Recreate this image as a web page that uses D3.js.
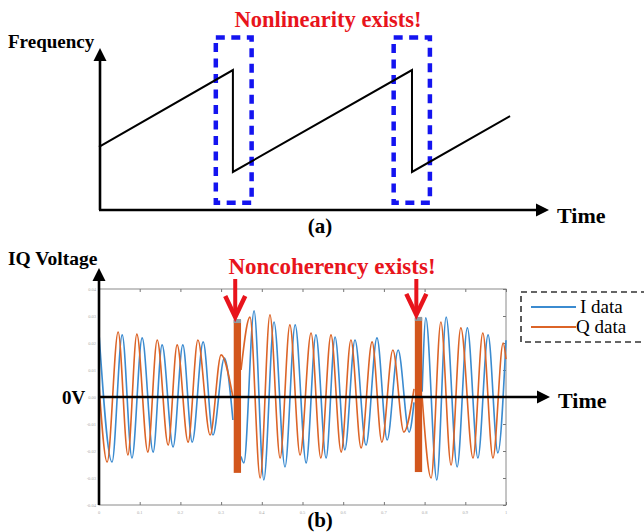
<!DOCTYPE html>
<html>
<head>
<meta charset="utf-8">
<script src="https://cdn.jsdelivr.net/npm/d3@7"></script>
<style>
  body { margin: 0; background: #fff; }
  svg { display: block; }
  text { font-family: "Liberation Serif", "Times New Roman", serif; }
</style>
</head>
<body>
<svg id="chart" width="644" height="532"></svg>
<script>
// ---- top panel: FMCW sweep (time, frequency) ----
var sweepPoints = [[0, 3.9], [3.29, 8.64], [3.29, 2.35], [7.69, 8.64], [7.69, 2.35], [10.1, 5.8]];
// dashed windows where nonlinearity shows up [tStart, tEnd, fLow, fHigh]
var nonlinWindows = [[2.87, 3.75, 0.45, 10.65], [7.24, 8.13, 0.45, 10.65]];

// ---- bottom panel: IQ voltage, extrema [t, v] ----
var iData = [
  [[0, 2.37], [0.32, -2.41], [0.57, 2.30], [0.81, -2.26], [1.06, 2.19], [1.33, -2.04], [1.55, 1.93],
   [1.82, -1.85], [2.06, 1.93], [2.29, -1.67], [2.56, 2.04], [2.80, -1.41], [3.08, 1.44], [3.29, -0.85]],
  [[3.49, -2.20], [3.56, -2.44], [3.81, 3.19], [4.05, -3.07], [4.30, 2.78], [4.57, -2.59], [4.82, 2.67],
   [5.09, -2.44], [5.33, 2.30], [5.58, -2.26], [5.80, 2.22], [6.04, -1.96], [6.29, 2.11], [6.56, -1.78],
   [6.83, 2.19], [7.08, -1.59], [7.35, 1.74], [7.62, -1.30], [7.74, -0.2]],
  [[7.94, 0.2], [8.03, 2.93], [8.30, -3.07], [8.53, 2.96], [8.80, -2.59], [9.05, 2.56], [9.31, -2.26],
   [9.56, 2.30], [9.80, -2.07], [10.0, 2.10]]
];
var qData = [
  [[0, 0.44], [0.20, -2.41], [0.47, 2.41], [0.71, -2.15], [0.93, 2.33], [1.20, -2.04], [1.43, 2.11],
   [1.70, -1.78], [1.92, 1.93], [2.19, -1.67], [2.43, 2.11], [2.73, -1.41], [3.00, 1.56], [3.29, 0.0]],
  [[3.49, 1.0], [3.71, 2.96], [3.96, -3.00], [4.20, 3.04], [4.45, -2.26], [4.69, 2.67], [4.94, -2.15],
   [5.21, 2.37], [5.45, -2.26], [5.70, 2.30], [5.95, -2.04], [6.19, 2.11], [6.44, -1.89], [6.71, 2.04],
   [6.95, -1.67], [7.22, 1.74], [7.49, -1.30], [7.74, 0.3]],
  [[7.94, 0.0], [8.16, -3.00], [8.40, 2.78], [8.65, -2.52], [8.89, 2.56], [9.19, -2.26], [9.43, 2.37],
   [9.68, -2.26], [9.93, 2.00], [10.0, 1.40]]
];
// phase-jump bursts [tStart, tEnd, vTop, vBottom]
var bursts = [[3.31, 3.49, 2.85, -2.81], [7.76, 7.94, 2.93, -2.78]];

var xTicks = [0, 1, 2, 3, 4, 5, 6, 7, 8, 9, 10];
var yTicks = [-4, -3, -2, -1, 0, 1, 2, 3, 4];
var legendLabels = ["I data", "Q data"];

var colI = "#3b8bd0";
var colQ = "#dc6427";
var colRed = "#e8141c";
var colBox = "#1414f0";

var svg = d3.select("#chart");

// shared time scale, one frequency scale, one voltage scale
var x = d3.scaleLinear().domain([0, 10]).range([99, 506]);
var yTop = d3.scaleLinear().domain([0, 10]).range([210, 48]);
var yBot = d3.scaleLinear().domain([-4, 4]).range([505, 289]);

/*
  drawArrowAxis: black axis line with a filled triangular head
*/
function drawArrowAxis(x1, y1, x2, y2) {
  var dx = x2 - x1, dy = y2 - y1;
  var len = Math.sqrt(dx * dx + dy * dy);
  var ux = dx / len, uy = dy / len;
  var head = 13, half = 6.5;
  var bx = x2 - ux * head, by = y2 - uy * head;

  svg.append("line")
    .attr("x1", x1).attr("y1", y1)
    .attr("x2", bx).attr("y2", by)
    .attr("stroke", "#000")
    .attr("stroke-width", 2.6);

  svg.append("path")
    .attr("d", "M" + x2 + "," + y2 +
      "L" + (bx - uy * half) + "," + (by + ux * half) +
      "L" + (bx + uy * half) + "," + (by - ux * half) + "Z")
    .attr("fill", "#000");
} // end function drawArrowAxis

/*
  drawTopPanel: frequency vs time sawtooth, (a)
*/
function drawTopPanel() {
  svg.selectAll(".nonlin-box")
    .data(nonlinWindows)
    .enter()
    .append("rect")
    .attr("class", "nonlin-box")
    .attr("x", function (d) { return x(d[0]); })
    .attr("y", function (d) { return yTop(d[3]); })
    .attr("width", function (d) { return x(d[1]) - x(d[0]); })
    .attr("height", function (d) { return yTop(d[2]) - yTop(d[3]); })
    .attr("fill", "none")
    .attr("stroke", colBox)
    .attr("stroke-width", 4.5)
    .attr("stroke-dasharray", "9,6.5");

  var sweepLine = d3.line()
    .x(function (d) { return x(d[0]); })
    .y(function (d) { return yTop(d[1]); });

  svg.append("path")
    .datum(sweepPoints)
    .attr("d", sweepLine)
    .attr("fill", "none")
    .attr("stroke", "#000")
    .attr("stroke-width", 2);

  drawArrowAxis(x(0) + 1, yTop(0), x(0) + 1, 48);
  drawArrowAxis(x(0), yTop(0), 549, yTop(0));

  svg.append("text")
    .attr("x", 8).attr("y", 48)
    .attr("font-size", 19).attr("font-weight", "bold")
    .text("Frequency");

  svg.append("text")
    .attr("x", 328).attr("y", 27)
    .attr("text-anchor", "middle")
    .attr("font-size", 22.5).attr("font-weight", "bold")
    .attr("fill", colRed)
    .text("Nonlinearity exists!");

  svg.append("text")
    .attr("x", 557).attr("y", 223)
    .attr("font-size", 22).attr("font-weight", "bold")
    .text("Time");

  svg.append("text")
    .attr("x", 320).attr("y", 233)
    .attr("text-anchor", "middle")
    .attr("font-size", 21).attr("font-weight", "bold")
    .text("(a)");
} // end function drawTopPanel

/*
  drawBottomPanel: scope style IQ voltage plot, (b)
*/
function drawBottomPanel() {
  var g = svg.append("g").attr("class", "iq-plot");

  // matlab style box
  g.append("rect")
    .attr("x", x(0)).attr("y", yBot(4))
    .attr("width", x(10) - x(0))
    .attr("height", yBot(-4) - yBot(4))
    .attr("fill", "none")
    .attr("stroke", "#8a8a8a")
    .attr("stroke-width", 1);

  // inward ticks, top/bottom and left/right
  g.append("g")
    .attr("transform", "translate(0," + yBot(-4) + ")")
    .call(d3.axisTop(x).tickValues(xTicks).tickSize(3).tickFormat(""))
    .call(function (s) { s.select(".domain").remove(); s.selectAll("line").attr("stroke", "#777"); });
  g.append("g")
    .attr("transform", "translate(0," + yBot(4) + ")")
    .call(d3.axisBottom(x).tickValues(xTicks).tickSize(3).tickFormat(""))
    .call(function (s) { s.select(".domain").remove(); s.selectAll("line").attr("stroke", "#777"); });
  g.append("g")
    .attr("transform", "translate(" + x(10) + ",0)")
    .call(d3.axisLeft(yBot).tickValues(yTicks).tickSize(3).tickFormat(""))
    .call(function (s) { s.select(".domain").remove(); s.selectAll("line").attr("stroke", "#777"); });

  // faint tick labels, barely legible in the figure
  g.selectAll(".xlab")
    .data(xTicks)
    .enter()
    .append("text")
    .attr("class", "xlab")
    .attr("x", function (d) { return x(d); })
    .attr("y", yBot(-4) + 9)
    .attr("text-anchor", "middle")
    .attr("font-size", 4.5)
    .attr("fill", "#aaa")
    .text(function (d) { return d / 10; });
  g.selectAll(".ylab")
    .data(yTicks)
    .enter()
    .append("text")
    .attr("class", "ylab")
    .attr("x", x(0) - 3)
    .attr("y", function (d) { return yBot(d) + 1.5; })
    .attr("text-anchor", "end")
    .attr("font-size", 4.5)
    .attr("fill", "#aaa")
    .text(function (d) { return (d / 100).toFixed(2); });

  var trace = d3.line()
    .x(function (d) { return x(d[0]); })
    .y(function (d) { return yBot(d[1]); })
    .curve(d3.curveMonotoneX);

  g.selectAll(".i-trace")
    .data(iData)
    .enter()
    .append("path")
    .attr("class", "i-trace")
    .attr("d", trace)
    .attr("fill", "none")
    .attr("stroke", colI)
    .attr("stroke-width", 1.6);

  g.selectAll(".q-trace")
    .data(qData)
    .enter()
    .append("path")
    .attr("class", "q-trace")
    .attr("d", trace)
    .attr("fill", "none")
    .attr("stroke", colQ)
    .attr("stroke-width", 1.6);

  g.selectAll(".burst")
    .data(bursts)
    .enter()
    .append("rect")
    .attr("class", "burst")
    .attr("x", function (d) { return x(d[0]); })
    .attr("y", function (d) { return yBot(d[2]); })
    .attr("width", function (d) { return x(d[1]) - x(d[0]); })
    .attr("height", function (d) { return yBot(d[3]) - yBot(d[2]); })
    .attr("fill", "#d2561d");

  // grey-blue caps where the I trace sits on the burst
  g.selectAll(".burst-cap")
    .data(bursts)
    .enter()
    .append("rect")
    .attr("class", "burst-cap")
    .attr("x", function (d) { return x(d[0]); })
    .attr("y", function (d) { return yBot(d[2]) - 1; })
    .attr("width", function (d) { return x(d[1]) - x(d[0]); })
    .attr("height", 4)
    .attr("fill", "#8f9aa0");

  drawArrowAxis(x(0), yBot(-4), x(0), 268);
  drawArrowAxis(x(0), yBot(0), 550, yBot(0));

  // red arrows pointing at the bursts
  bursts.forEach(function (d) {
    var ax = x(d[0]) + 1.5;
    var tip = yBot(d[2]) - 3;
    svg.append("line")
      .attr("x1", ax).attr("y1", 279)
      .attr("x2", ax).attr("y2", tip - 2)
      .attr("stroke", colRed)
      .attr("stroke-width", 4);
    svg.append("path")
      .attr("d", "M" + (ax - 10) + "," + (tip - 21) + "L" + ax + "," + tip + "L" + (ax + 10) + "," + (tip - 21))
      .attr("fill", "none")
      .attr("stroke", colRed)
      .attr("stroke-width", 4.5)
      .attr("stroke-linejoin", "miter");
  });

  svg.append("text")
    .attr("x", 8).attr("y", 265)
    .attr("font-size", 19.5).attr("font-weight", "bold")
    .text("IQ Voltage");

  svg.append("text")
    .attr("x", 332).attr("y", 274)
    .attr("text-anchor", "middle")
    .attr("font-size", 23).attr("font-weight", "bold")
    .attr("fill", colRed)
    .text("Noncoherency exists!");

  svg.append("text")
    .attr("x", 62).attr("y", 404)
    .attr("font-size", 19).attr("font-weight", "bold")
    .text("0V");

  svg.append("text")
    .attr("x", 558).attr("y", 408)
    .attr("font-size", 22).attr("font-weight", "bold")
    .text("Time");

  svg.append("text")
    .attr("x", 320).attr("y", 527)
    .attr("text-anchor", "middle")
    .attr("font-size", 21).attr("font-weight", "bold")
    .text("(b)");

  // legend, box runs off the right edge
  svg.append("rect")
    .attr("x", 521).attr("y", 292)
    .attr("width", 140).attr("height", 50)
    .attr("fill", "#fff")
    .attr("stroke", "#333")
    .attr("stroke-width", 1.6)
    .attr("stroke-dasharray", "6,4");

  var legend = svg.selectAll(".legend-item")
    .data(legendLabels)
    .enter()
    .append("g")
    .attr("class", "legend-item")
    .attr("transform", function (d, i) { return "translate(531," + (307 + i * 20) + ")"; });

  legend.append("line")
    .attr("x1", 0).attr("x2", 45)
    .attr("y1", 0).attr("y2", 0)
    .attr("stroke", function (d, i) { return i === 0 ? colI : colQ; })
    .attr("stroke-width", 2);

  legend.append("text")
    .attr("x", function (d, i) { return i === 0 ? 49 : 45; })
    .attr("y", 6)
    .attr("font-size", 19)
    .text(function (d) { return d; });
} // end function drawBottomPanel

drawTopPanel();
drawBottomPanel();
</script>
</body>
</html>
